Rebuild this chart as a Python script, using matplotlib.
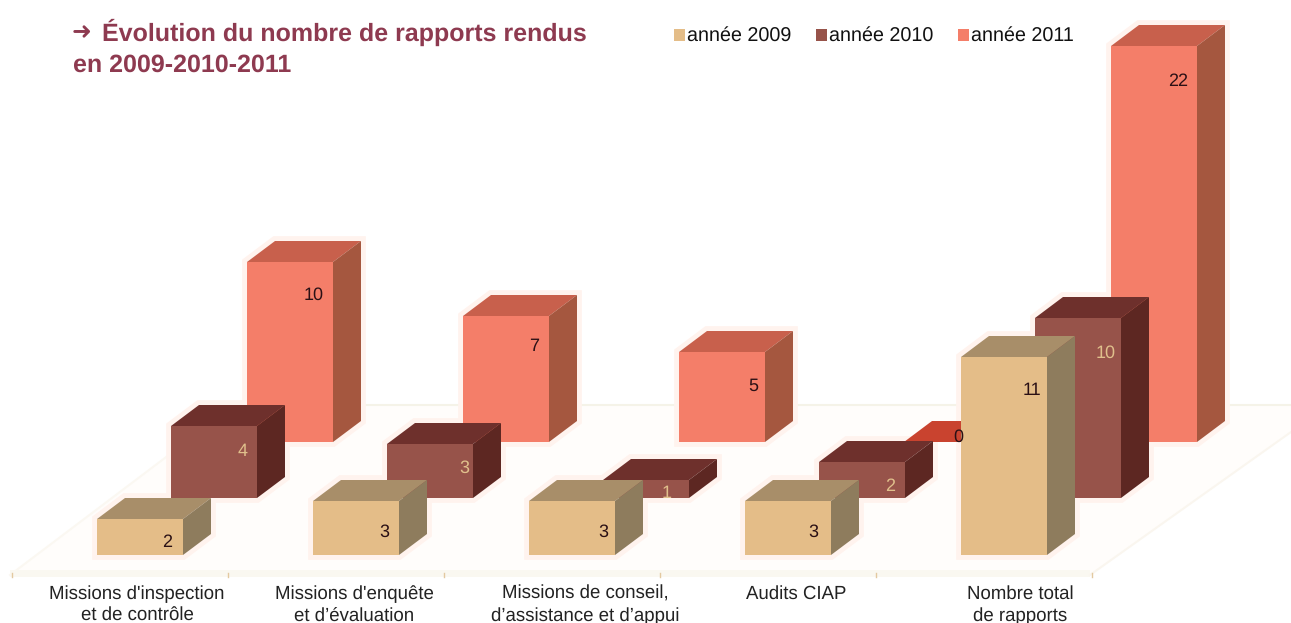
import matplotlib
matplotlib.use('Agg')
import matplotlib.pyplot as plt

plt.rcParams['font.family'] = ['Liberation Sans', 'DejaVu Sans']
plt.rcParams['text.hinting'] = 'no_hinting'

# data
categories = ["Missions d'inspection\net de contrôle", "Missions d'enquête\net d’évaluation",
              "Missions de conseil,\nd’assistance et d’appui", "Audits CIAP", "Nombre total\nde rapports"]
years = ['année 2009', 'année 2010', 'année 2011']
v2009 = [2, 3, 3, 3, 11]
v2010 = [4, 3, 1, 2, 10]
v2011 = [10, 7, 5, 0, 22]

# colours per year: front, top, side
colors = [('#e4bd88', '#a88e69', '#8e7c5d'),
          ('#97534a', '#6e302c', '#5d2722'),
          ('#f47e69', '#c8604c', '#a5573f')]
label_colors = ['#2a1015', '#e0c08c', '#2a1015']

# fake 3d layout, in pixels
unit = 18.0
bar_w = 86
depth_x = 28
depth_y = 21
pitch = 216
x_start = [97, 171, 247]
base_y = [555, 498, 442]
# value labels, relative to front right corner / top of the bar
label_dx = [[-16, -15, -12, -18, -15], [-14, -9, -22, -15, -15], [-19, -15, -12, -23, -19]]
label_dy = [[22, 30, 30, 30, 32], [24, 23, 12, 23, 34], [32, 29, 33, -6, 34]]

fig = plt.figure(figsize=(12.91, 6.23), dpi=100)
ax = fig.add_axes([0, 0, 1, 1])
ax.set_xlim(0, 1291)
ax.set_ylim(623, 0)
ax.axis('off')

# floor
ax.fill([10, 1090, 1291, 1291, 235], [575, 575, 432, 405, 405], color='#fffdfb', lw=0, zorder=0)
ax.fill([10, 1090, 1090, 10], [570, 570, 577, 577], color='#faf8f1', lw=0, zorder=0)
ax.plot([235, 1291], [405, 405], color='#f5f3e8', lw=1.5, zorder=0)
ax.plot([10, 235], [575, 405], color='#fbf8f2', lw=1.5, zorder=0)
ax.plot([1090, 1291], [575, 432], color='#faf6ef', lw=1.5, zorder=0)
for i in range(6):
    ax.plot([12 + pitch * i] * 2, [573, 577], color='#e3c9a0', lw=1, zorder=1)


def draw_bar(x0, base, value, cols, z):
    top = base - value * unit
    x1 = x0 + bar_w
    if value == 0:
        # empty category: only a flat red plate remains
        x0 = x0 + 9
        ax.fill([x0, x1, x1 + depth_x, x0 + depth_x], [top, top, top - depth_y, top - depth_y],
                color='#c9432f', lw=0, zorder=z)
        return
    # pale glow behind the bar
    ax.fill([x0, x0 + depth_x, x1 + depth_x, x1 + depth_x, x1, x0],
            [top, top - depth_y, top - depth_y, base - depth_y, base, base],
            facecolor='#fff3ee', edgecolor='#fff3ee', lw=7, zorder=1)
    ax.fill([x0, x1, x1 + depth_x, x0 + depth_x], [top, top, top - depth_y, top - depth_y],
            color=cols[1], lw=0, zorder=z)
    ax.fill([x1, x1 + depth_x, x1 + depth_x, x1], [top, top - depth_y, base - depth_y, base],
            color=cols[2], lw=0, zorder=z)
    ax.fill([x0, x1, x1, x0], [top, top, base, base], color=cols[0], lw=0, zorder=z + 0.1)


# back row first so the front rows cover it
series = [v2009, v2010, v2011]
for s in [2, 1, 0]:
    for i, val in enumerate(series[s]):
        draw_bar(x_start[s] + pitch * i, base_y[s], val, colors[s], 3 - s + 2)

for s in range(3):
    for i, val in enumerate(series[s]):
        lx = x_start[s] + pitch * i + bar_w + label_dx[s][i]
        ly = base_y[s] - val * unit + label_dy[s][i] + 1
        ax.text(lx, ly, str(val), ha='center', va='center', fontsize=13,
                color=label_colors[s], zorder=10)

# category labels
label_x = [137, 354, 585, 796, 1020]
for lx, c in zip(label_x, categories):
    ax.text(lx, 585, c, ha='center', va='top', fontsize=13.4, color='#222222',
            linespacing=1.35, zorder=10)

# title
ax.text(72, 33, '➜', fontsize=17, color='#8e3a50', va='center', family='DejaVu Sans', zorder=10)
ax.text(102, 32, 'Évolution du nombre de rapports rendus', fontsize=18, fontweight='bold',
        color='#8e3a50', va='center', zorder=10)
ax.text(73, 65, 'en 2009-2010-2011', fontsize=18, fontweight='bold',
        color='#8e3a50', va='center', zorder=10)

# legend
leg_x = [674, 816, 958]
for lx, y, cols in zip(leg_x, years, colors):
    ax.fill([lx, lx + 11, lx + 11, lx], [29, 29, 41, 41], color=cols[0], lw=0, zorder=10)
    ax.text(lx + 13, 36, y, fontsize=14.2, color='#111111', va='center', zorder=10)

fig.savefig('out.png', dpi=100)
